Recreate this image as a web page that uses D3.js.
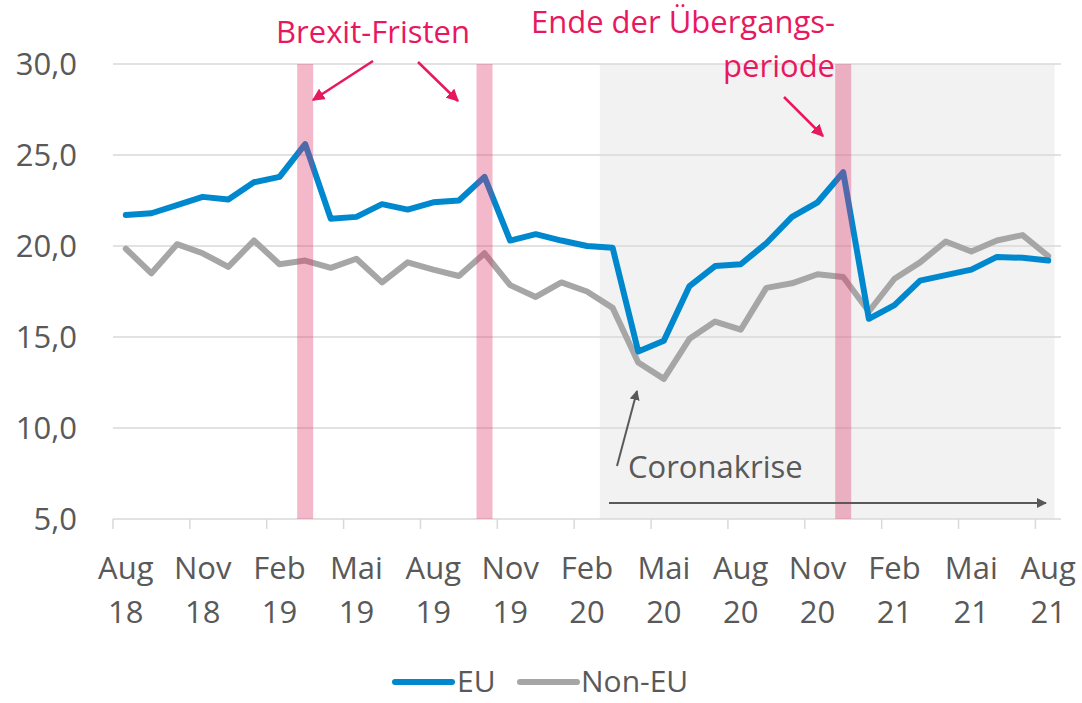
<!DOCTYPE html>
<html>
<head>
<meta charset="utf-8">
<script src="https://cdn.jsdelivr.net/npm/d3@7"></script>
<style>
	body { margin: 0; background: #fff; }
	svg text { font-family: "Open Sans", sans-serif; }
</style>
</head>
<body>
<svg id="chart" width="1082" height="703"></svg>
<script>
(function (d3) {
	"use strict";

	/***** Data *****/
	var months = ["Aug 18","Sep 18","Okt 18","Nov 18","Dez 18","Jan 19","Feb 19","Mär 19","Apr 19","Mai 19","Jun 19","Jul 19",
		"Aug 19","Sep 19","Okt 19","Nov 19","Dez 19","Jan 20","Feb 20","Mär 20","Apr 20","Mai 20","Jun 20","Jul 20",
		"Aug 20","Sep 20","Okt 20","Nov 20","Dez 20","Jan 21","Feb 21","Mär 21","Apr 21","Mai 21","Jun 21","Jul 21","Aug 21"];

	var euValues = [21.7,21.8,22.25,22.7,22.55,23.5,23.8,25.6,21.5,21.6,22.3,22.0,
		22.4,22.5,23.8,20.3,20.65,20.3,20.0,19.9,14.2,14.8,17.8,18.9,
		19.0,20.15,21.6,22.4,24.05,16.0,16.75,18.1,18.4,18.7,19.4,19.35,19.2];

	var nonEuValues = [19.85,18.5,20.1,19.6,18.85,20.3,19.0,19.2,18.8,19.3,18.0,19.1,
		18.7,18.35,19.6,17.85,17.2,18.0,17.5,16.6,13.6,12.7,14.9,15.85,
		15.4,17.7,17.95,18.45,18.3,16.4,18.2,19.1,20.25,19.7,20.3,20.6,19.45];

	var yTicks = [5, 10, 15, 20, 25, 30];
	var deadlines = ["Mär 19", "Okt 19", "Dez 20"];   // pink columns
	var crisisStart = "Mär 20";
	var crisisEnd = "Aug 21";

	var series = [
		{ name: "EU", values: euValues, color: "#0088CE" },
		{ name: "Non-EU", values: nonEuValues, color: "#A6A6A6" }
	];

	/***** Layout *****/
	var svg = d3.select("#chart");
	const left = 113, right = 1061, top = 64, bottom = 519;
	const textColor = "#595959";
	const pink = "#E8185F";

	var x = d3.scaleBand().domain(months).range([left, right]);
	var y = d3.scaleLinear().domain([5, 30]).range([bottom, top]);
	var xc = function (m) { return x(m) + x.bandwidth() / 2; };

	var defs = svg.append("defs");
	function marker(id, color) {
		defs.append("marker")
			.attr("id", id)
			.attr("viewBox", "0 0 10 10")
			.attr("refX", 9).attr("refY", 5)
			.attr("markerWidth", 5).attr("markerHeight", 5)
			.attr("markerUnits", "strokeWidth")
			.attr("orient", "auto")
			.append("path").attr("d", "M0,0 L10,5 L0,10 z").attr("fill", color);
	}
	marker("arrPink", pink);
	marker("arrGray", textColor);

	/***** Corona background *****/
	svg.append("rect")
		.attr("x", x(crisisStart))
		.attr("y", top)
		.attr("width", x(crisisEnd) + x.bandwidth() * 0.75 - x(crisisStart))
		.attr("height", bottom - top)
		.attr("fill", "#F2F2F2");

	/***** Grid lines *****/
	svg.append("g").selectAll("line")
		.data(yTicks.filter(function (t) { return t > 5; }))
		.enter().append("line")
		.attr("x1", left).attr("x2", right)
		.attr("y1", function (d) { return y(d); })
		.attr("y2", function (d) { return y(d); })
		.attr("stroke", "#D9D9D9").attr("stroke-width", 1.5);

	/***** Y axis labels *****/
	svg.append("g").selectAll("text")
		.data(yTicks)
		.enter().append("text")
		.attr("x", 77)
		.attr("y", function (d) { return y(d); })
		.attr("dy", "0.36em")
		.attr("text-anchor", "end")
		.attr("font-size", 31)
		.attr("fill", textColor)
		.text(function (d) { return d3.format(".1f")(d).replace(".", ","); });

	/***** X axis *****/
	var xAxis = svg.append("g");
	xAxis.append("line")
		.attr("x1", left).attr("x2", right)
		.attr("y1", bottom).attr("y2", bottom)
		.attr("stroke", "#D9D9D9").attr("stroke-width", 1.5);

	var labelled = months.filter(function (m, i) { return i % 3 === 0; });
	xAxis.selectAll(".tick")
		.data(labelled)
		.enter().append("line")
		.attr("x1", function (m) { return x(m); })
		.attr("x2", function (m) { return x(m); })
		.attr("y1", bottom).attr("y2", bottom + 10)
		.attr("stroke", "#D9D9D9").attr("stroke-width", 1.5);

	var lbl = xAxis.selectAll(".lbl")
		.data(labelled)
		.enter().append("text")
		.attr("text-anchor", "middle")
		.attr("font-size", 31)
		.attr("fill", textColor);
	lbl.append("tspan")
		.attr("x", function (m) { return xc(m); })
		.attr("y", 579)
		.text(function (m) { return m.split(" ")[0]; });
	lbl.append("tspan")
		.attr("x", function (m) { return xc(m); })
		.attr("y", 623)
		.text(function (m) { return m.split(" ")[1]; });

	/***** Lines *****/
	var line = d3.line()
		.x(function (d, i) { return xc(months[i]); })
		.y(function (d) { return y(d); });

	svg.append("g").selectAll("path")
		.data(series.slice().reverse())
		.enter().append("path")
		.attr("d", function (s) { return line(s.values); })
		.attr("fill", "none")
		.attr("stroke", function (s) { return s.color; })
		.attr("stroke-width", 6)
		.attr("stroke-linejoin", "round")
		.attr("stroke-linecap", "round");

	/***** Deadline columns *****/
	svg.append("g").selectAll("rect")
		.data(deadlines)
		.enter().append("rect")
		.attr("x", function (m) { return xc(m) - 8; })
		.attr("y", top)
		.attr("width", 16)
		.attr("height", bottom - top)
		.attr("fill", "#DF346A")
		.attr("fill-opacity", 0.35);

	/***** Annotations *****/
	var ann = svg.append("g");
	ann.append("text")
		.attr("x", 373).attr("y", 43)
		.attr("text-anchor", "middle")
		.attr("font-size", 31).attr("fill", pink)
		.text("Brexit-Fristen");
	ann.append("text")
		.attr("x", 835).attr("y", 33)
		.attr("text-anchor", "end")
		.attr("font-size", 31).attr("fill", pink)
		.text("Ende der Übergangs-");
	ann.append("text")
		.attr("x", 835).attr("y", 77)
		.attr("text-anchor", "end")
		.attr("font-size", 31).attr("fill", pink)
		.text("periode");

	var pinkArrows = [
		[373, 61, 313, 100],
		[418, 62, 458, 101],
		[784, 97, 823, 136]
	];
	ann.selectAll(".pa")
		.data(pinkArrows)
		.enter().append("line")
		.attr("x1", function (a) { return a[0]; })
		.attr("y1", function (a) { return a[1]; })
		.attr("x2", function (a) { return a[2]; })
		.attr("y2", function (a) { return a[3]; })
		.attr("stroke", pink).attr("stroke-width", 2.5)
		.attr("marker-end", "url(#arrPink)");

	ann.append("text")
		.attr("x", 628).attr("y", 478)
		.attr("font-size", 31).attr("fill", textColor)
		.text("Coronakrise");
	ann.append("line")
		.attr("x1", 617).attr("y1", 466)
		.attr("x2", 637).attr("y2", 391)
		.attr("stroke", textColor).attr("stroke-width", 2)
		.attr("marker-end", "url(#arrGray)");
	ann.append("line")
		.attr("x1", 609).attr("y1", 503)
		.attr("x2", 1046).attr("y2", 503)
		.attr("stroke", textColor).attr("stroke-width", 2)
		.attr("marker-end", "url(#arrGray)");

	/***** Legend *****/
	var legendPos = [{ x: 395, tx: 457 }, { x: 520, tx: 581 }];
	var legend = svg.append("g").selectAll("g")
		.data(series)
		.enter().append("g");
	legend.append("line")
		.attr("x1", function (s, i) { return legendPos[i].x; })
		.attr("x2", function (s, i) { return legendPos[i].x + 57; })
		.attr("y1", 682).attr("y2", 682)
		.attr("stroke", function (s) { return s.color; })
		.attr("stroke-width", 6)
		.attr("stroke-linecap", "round");
	legend.append("text")
		.attr("x", function (s, i) { return legendPos[i].tx; })
		.attr("y", 692)
		.attr("font-size", 30)
		.attr("fill", textColor)
		.text(function (s) { return s.name; });

})(d3);
</script>
</body>
</html>
